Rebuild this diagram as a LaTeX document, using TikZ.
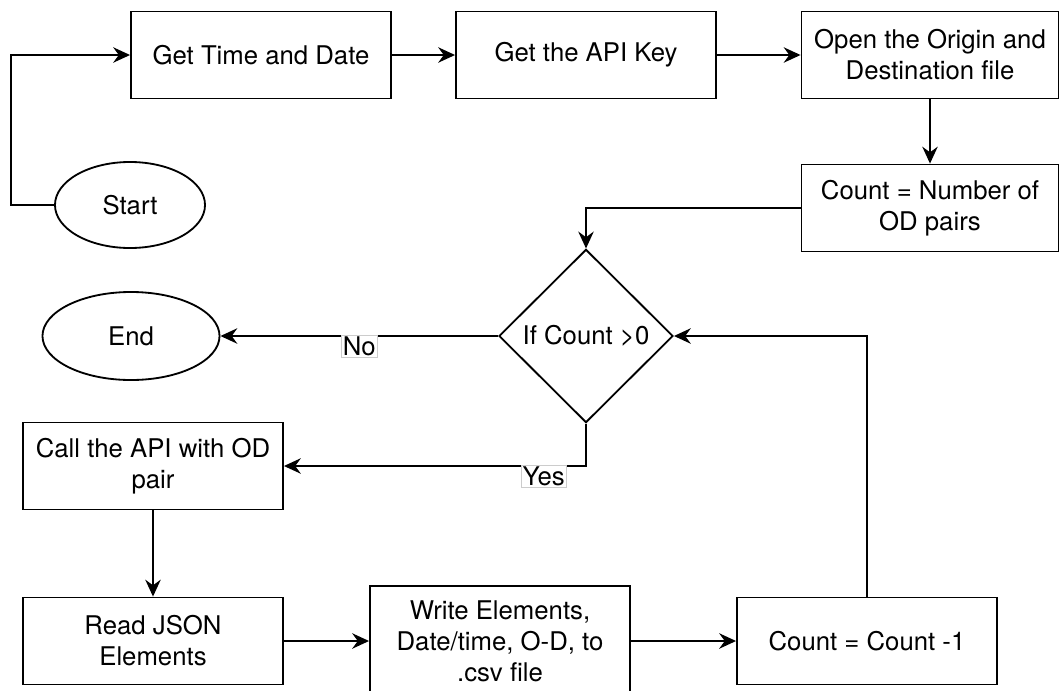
\documentclass[tikz,border=0pt]{standalone}
\usepackage{fontspec}
\setmainfont{TeX Gyre Heros}
\usepackage{tikz}
\usetikzlibrary{shapes.geometric}
\usetikzlibrary{arrows.meta}

\tikzset{
  box/.style={rectangle, draw, minimum width=6.5cm, minimum height=2.175cm, align=center},
  oval/.style={ellipse, draw, inner sep=0pt},
  cond/.style={diamond, draw, inner sep=0pt, minimum width=4.35cm, minimum height=4.33cm},
  flow/.style={-{Stealth[length=12pt,width=11pt,inset=4pt]}},
  tag/.style={fill=white, draw=black!20, line width=0.4pt, inner sep=1pt}
}

\begin{document}
\begin{tikzpicture}[x=0.025cm, y=-0.025cm, line width=1.3pt,
  font=\fontsize{18.3}{22}\selectfont]
\useasboundingbox (0,0) rectangle (1060,691);

\node[box] (gettime) at (261,55) {Get Time and Date};
\node[box] (getkey) at (586,55) {Get the API Key};
\node[box, minimum width=6.425cm] (openfile) at (930,55) {Open the Origin and\\Destination file};
\node[box, minimum width=6.425cm] (countod) at (930,208) {Count = Number of\\OD pairs};
\node[oval, minimum width=3.75cm, minimum height=2.15cm] (start) at (130,205) {Start};
\coordinate (back) at (11,205);

\node[cond] (decide) at (586,336) {If Count >0};
\node[oval, minimum width=4.425cm, minimum height=2.2cm] (stop) at (131,336) {End};

\node[box] (callapi) at (153,466) {Call the API with OD\\pair};
\node[box] (readjson) at (153,641) {Read JSON\\Elements};
\node[box, minimum height=2.75cm] (writecsv) at (500,641) {Write Elements,\\Date/time, O-D, to\\.csv file};
\node[box] (decrement) at (867,641) {Count = Count -1};

\draw[flow] (start.west) -- (back) |- (gettime.west);
\draw[flow] (gettime) -- (getkey);
\draw[flow] (getkey) -- (openfile);
\draw[flow] (openfile) -- (countod);
\draw[flow] (countod.west) -| (decide.north);
\draw[flow] (decide.west) -- node[tag, yshift=-7pt] {No} (stop.east);
\draw[flow] (decide.south) |- node[tag, pos=0.57, yshift=-7pt] {Yes} (callapi.east);
\draw[flow] (callapi) -- (readjson);
\draw[flow] (readjson) -- (writecsv);
\draw[flow] (writecsv) -- (decrement);
\draw[flow] (decrement.north) |- (decide.east);

\end{tikzpicture}
\end{document}
